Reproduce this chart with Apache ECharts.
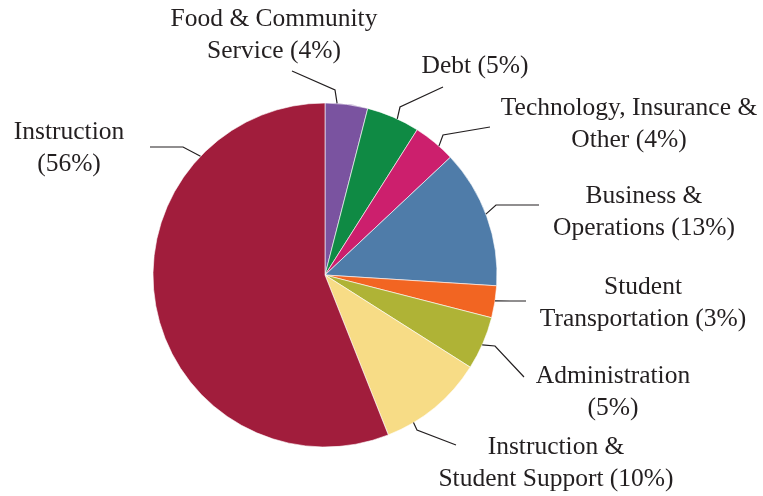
<!DOCTYPE html>
<html>
<head>
<meta charset="utf-8">
<script src="https://cdn.jsdelivr.net/npm/echarts@6/dist/echarts.min.js"></script>
<style>
  html, body { margin: 0; padding: 0; background: #fff; }
  #chart { width: 763px; height: 496px; }
</style>
</head>
<body>
<div id="chart"></div>
<script>
// budget categories, clockwise from 12 o'clock
const categories = [
  'Food & Community\nService',
  'Debt',
  'Technology, Insurance &\nOther',
  'Business &\nOperations',
  'Student\nTransportation',
  'Administration\n',
  'Instruction &\nStudent Support',
  'Instruction\n'
]
const shares = [4, 5, 4, 13, 3, 5, 10, 56]

const palette = ['#7a53a0', '#0f8a44', '#cc1f6d', '#4f7ca9', '#f26522', '#afb336', '#f7dc86', '#a11d3c']

// label block centers
const labelPos = [
  [274, 35], [475, 66], [629, 124], [644, 212],
  [643, 303], [613, 392], [556, 463], [69, 148]
]
// leader lines: where on the slice arc they start (0..1 of the slice), then bend point, then end point
const guides = [
  [0.28, [335, 90], [292, 71]],
  [0.58, [400, 107], [443, 87]],
  [0.63, [443, 135], [490, 127]],
  [0.48, [496, 205], [539, 205]],
  [0.47, [510, 301], [526, 301]],
  [0.53, [495, 346], [524, 377]],
  [0.74, [417, 430], [456, 445]],
  [0.77, [183, 147], [150, 147]]
]

const chart = echarts.init(document.getElementById('chart'))
const option = {
  color: palette,
  animation: false,
  series: [{
    type: 'pie',
    center: [325, 275],
    radius: 172,
    startAngle: 90,
    clockwise: true,
    itemStyle: { borderColor: '#fff', borderWidth: 0.6 },
    label: {
      show: true,
      position: 'outside',
      fontFamily: 'Liberation Serif',
      fontSize: 25.5,
      lineHeight: 32,
      color: '#231f20',
      align: 'center',
      overflow: 'none',
      formatter: function (p) {
        const name = categories[p.dataIndex]
        if (name.endsWith('\n')) return name + '(' + p.value + '%)'
        return name + ' (' + p.value + '%)'
      }
    },
    labelLine: { show: false },
    labelLayout: function (p) {
      const pos = labelPos[p.dataIndex]
      return { x: pos[0], y: pos[1], align: 'center', verticalAlign: 'middle' }
    },
    data: categories.map((c, i) => ({ name: c, value: shares[i] }))
  }]
}
chart.setOption(option)

// leader lines start on the arc as laid out by the pie series
const pieData = chart.getModel().getSeriesByIndex(0).getData()
const lines = guides.map(function (g, i) {
  const l = pieData.getItemLayout(i)
  const a = l.startAngle + (l.endAngle - l.startAngle) * g[0]
  const start = [l.cx + l.r * Math.cos(a), l.cy + l.r * Math.sin(a)]
  return {
    type: 'polyline',
    shape: { points: [start, g[1], g[2]] },
    style: { stroke: '#231f20', lineWidth: 1.2, fill: null },
    z: 10
  }
})
chart.setOption({ graphic: lines })
</script>
</body>
</html>
